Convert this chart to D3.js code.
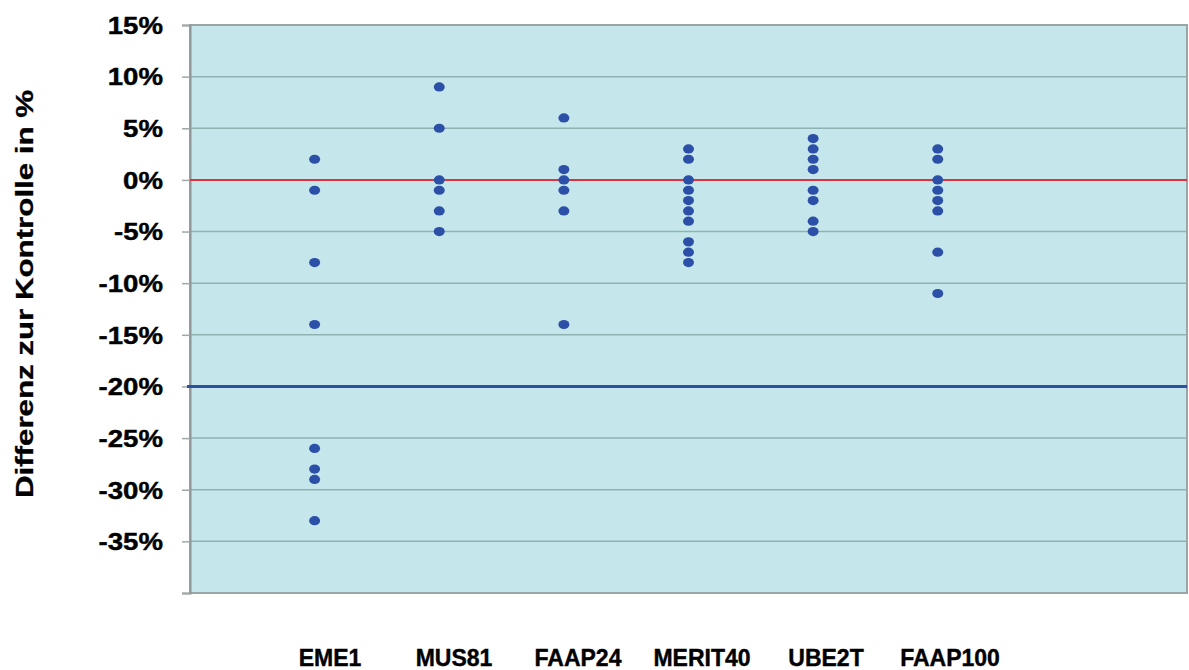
<!DOCTYPE html>
<html>
<head>
<meta charset="utf-8">
<script src="https://cdn.jsdelivr.net/npm/d3@7"></script>
<style>
  html, body { margin: 0; padding: 0; background: #ffffff; }
  svg { display: block; font-family: "Liberation Sans", Arial, sans-serif; }
</style>
</head>
<body>
<svg id="chart" width="1189" height="670"></svg>
<script>
// Genes tested (x categories)
const genes = ["EME1", "MUS81", "FAAP24", "MERIT40", "UBE2T", "FAAP100"];

// Difference to control in %, one list per gene
const eme1    = [2, -1, -8, -14, -26, -28, -29, -33];
const mus81   = [9, 5, 0, -1, -3, -5];
const faap24  = [6, 1, 0, -1, -3, -14];
const merit40 = [3, 2, 0, -1, -2, -3, -4, -6, -7, -8];
const ube2t   = [4, 3, 2, 1, -1, -2, -4, -5];
const faap100 = [3, 2, 0, -1, -2, -3, -7, -11];
const seriesValues = [eme1, mus81, faap24, merit40, ube2t, faap100];

// Axis ticks and reference lines
const yTicks = [15, 10, 5, 0, -5, -10, -15, -20, -25, -30, -35, -40];
const yTickLabels = ["15%", "10%", "5%", "0%", "-5%", "-10%", "-15%", "-20%", "-25%", "-30%", "-35%", ""];
const zeroLine = 0;
const thresholdLine = -20;
const yTitle = "Differenz zur Kontrolle in %";

const svg = d3.select("#chart");
const plotLeft = 190, plotRight = 1187, plotTop = 25, plotBottom = 593;

const y = d3.scaleLinear().domain([-40, 15]).range([plotBottom, plotTop]);
// gene columns sit at 1..6 on an axis running 0..8
const x = d3.scaleLinear().domain([0, genes.length + 2]).range([plotLeft, plotRight]);
const labelX = d3.scalePoint().domain(genes).range([330, 950]);

// plot background
svg.append("rect")
  .attr("x", plotLeft).attr("y", plotTop)
  .attr("width", plotRight - plotLeft).attr("height", plotBottom - plotTop)
  .attr("fill", "#c5e7eb");

// horizontal gridlines
svg.append("g").selectAll("line")
  .data(yTicks.filter(d => d > -40 && d < 15))
  .join("line")
  .attr("x1", plotLeft).attr("x2", plotRight)
  .attr("y1", d => y(d)).attr("y2", d => y(d))
  .attr("stroke", "#8fb2b3").attr("stroke-width", 1.5);

// frame
svg.append("rect")
  .attr("x", plotLeft).attr("y", plotTop)
  .attr("width", plotRight - plotLeft).attr("height", plotBottom - plotTop)
  .attr("fill", "none").attr("stroke", "#9aa5a7").attr("stroke-width", 2);

// y axis with tick marks and labels
const yAxis = d3.axisLeft(y)
  .tickValues(yTicks)
  .tickSize(8)
  .tickPadding(0)
  .tickFormat((d, i) => yTickLabels[i]);
const gy = svg.append("g").attr("transform", `translate(${plotLeft},0)`).call(yAxis);
gy.select(".domain").attr("stroke", "#8f9698").attr("stroke-width", 2);
gy.selectAll(".tick line").attr("stroke", "#a0a8aa").attr("stroke-width", 1.5);
gy.selectAll(".tick text").remove();
gy.selectAll(".tick").append("text")
  .attr("transform", "translate(-27,0) scale(1.2,1)")
  .attr("text-anchor", "end")
  .attr("dy", "0.36em")
  .attr("fill", "#000")
  .attr("stroke", "#000")
  .attr("stroke-width", 0.4)
  .attr("font-size", 23)
  .attr("font-weight", "bold")
  .text((d, i) => yTickLabels[i]);

// reference lines
svg.append("line")
  .attr("x1", plotLeft).attr("x2", plotRight)
  .attr("y1", y(zeroLine)).attr("y2", y(zeroLine))
  .attr("stroke", "#dd3340").attr("stroke-width", 2);
svg.append("line")
  .attr("x1", plotLeft - 3).attr("x2", plotRight)
  .attr("y1", y(thresholdLine)).attr("y2", y(thresholdLine))
  .attr("stroke", "#2d4fa6").attr("stroke-width", 3);

// data points
const points = seriesValues.flatMap((vals, i) => vals.map(v => ({ i, v })));
svg.append("g").selectAll("ellipse")
  .data(points)
  .join("ellipse")
  .attr("cx", d => x(d.i + 1))
  .attr("cy", d => y(d.v))
  .attr("rx", 5.5).attr("ry", 4.6)
  .attr("fill", "#2c4fa7");

// gene labels
svg.append("g").selectAll("text")
  .data(genes)
  .join("text")
  .attr("x", d => labelX(d))
  .attr("y", 666)
  .attr("text-anchor", "middle")
  .attr("font-size", 23)
  .attr("font-weight", "bold")
  .attr("fill", "#000")
  .attr("stroke", "#000")
  .attr("stroke-width", 0.4)
  .text(d => d);

// y axis title
svg.append("text")
  .attr("transform", "translate(33,294) rotate(-90) scale(1.36,1)")
  .attr("text-anchor", "middle")
  .attr("font-size", 23)
  .attr("font-weight", "bold")
  .attr("fill", "#000")
  .attr("stroke", "#000")
  .attr("stroke-width", 0.3)
  .text(yTitle);
</script>
</body>
</html>
